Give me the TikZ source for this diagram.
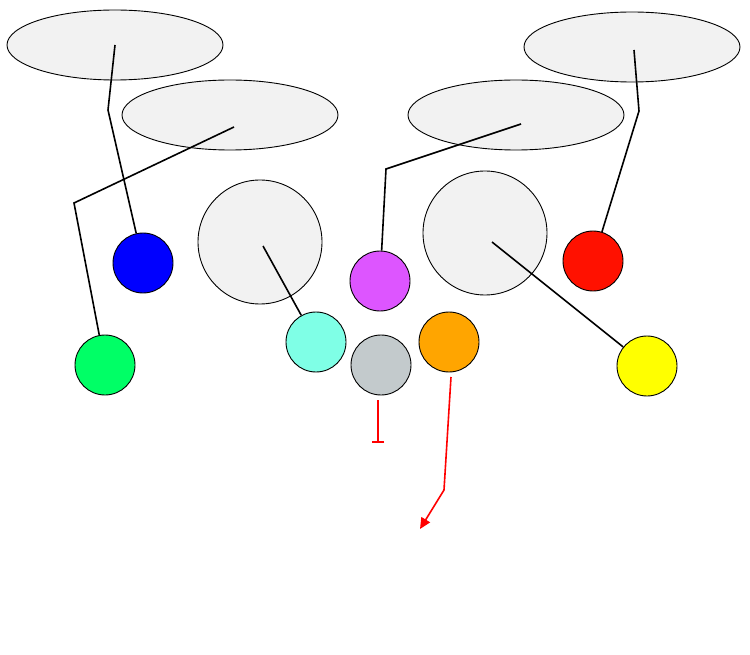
\documentclass[tikz,border=0pt]{standalone}
\usetikzlibrary{arrows.meta}
\begin{document}
\begin{tikzpicture}[x=1pt,y=-1pt,
  blob/.style={draw=black,line width=0.9pt,fill=gray!10},
  dot/.style={circle,draw=black,line width=0.9pt,minimum size=60pt,inner sep=0pt},
  link/.style={line width=1.6pt},
  rlink/.style={line width=1.6pt,red}]
\useasboundingbox (0,0) rectangle (750,655);
\draw[blob] (115,45) ellipse (108 and 35);
\draw[blob] (230,115) ellipse (108 and 35);
\draw[blob] (516,115) ellipse (108 and 35);
\draw[blob] (632,47) ellipse (108 and 35);
\draw[blob] (260,242) circle (62);
\draw[blob] (485,233) circle (62);
\node[dot,fill={rgb,255:red,0;green,0;blue,255}] (blue) at (143,263) {};
\node[dot,fill={rgb,255:red,0;green,255;blue,102}] (green) at (105,365) {};
\node[dot,fill={rgb,255:red,127;green,255;blue,230}] (cyan) at (316,342) {};
\node[dot,fill={rgb,255:red,221;green,85;blue,255}] (mag) at (380,281) {};
\node[dot,fill={rgb,255:red,195;green,202;blue,204}] (gray) at (381,365) {};
\node[dot,fill={rgb,255:red,255;green,165;blue,0}] (orange) at (449,342) {};
\node[dot,fill={rgb,255:red,255;green,17;blue,0}] (red) at (593,261) {};
\node[dot,fill={rgb,255:red,255;green,255;blue,0}] (yellow) at (647,366) {};
\coordinate (a1) at (115,45); \coordinate (a2) at (108,110);
\coordinate (b1) at (234,127); \coordinate (b2) at (74,203);
\coordinate (c1) at (263,246);
\coordinate (d1) at (521,124); \coordinate (d2) at (386,169);
\coordinate (e1) at (492,242);
\coordinate (f1) at (634,50); \coordinate (f2) at (639,111);
\coordinate (g1) at (378,400); \coordinate (g2) at (378,443);
\coordinate (h1) at (451,377); \coordinate (h2) at (444,490); \coordinate (h3) at (420,529);
\draw[link] (a1) -- (a2) -- (blue);
\draw[link] (b1) -- (b2) -- (green);
\draw[link] (c1) -- (cyan);
\draw[link] (d1) -- (d2) -- (mag);
\draw[link] (e1) -- (yellow);
\draw[link] (f1) -- (f2) -- (red);
\draw[rlink,-{Bar[width=12pt]}] (g1) -- (g2);
\draw[rlink,-{Triangle[length=11pt,width=10pt]}] (h1) -- (h2) -- (h3);
\end{tikzpicture}
\end{document}
